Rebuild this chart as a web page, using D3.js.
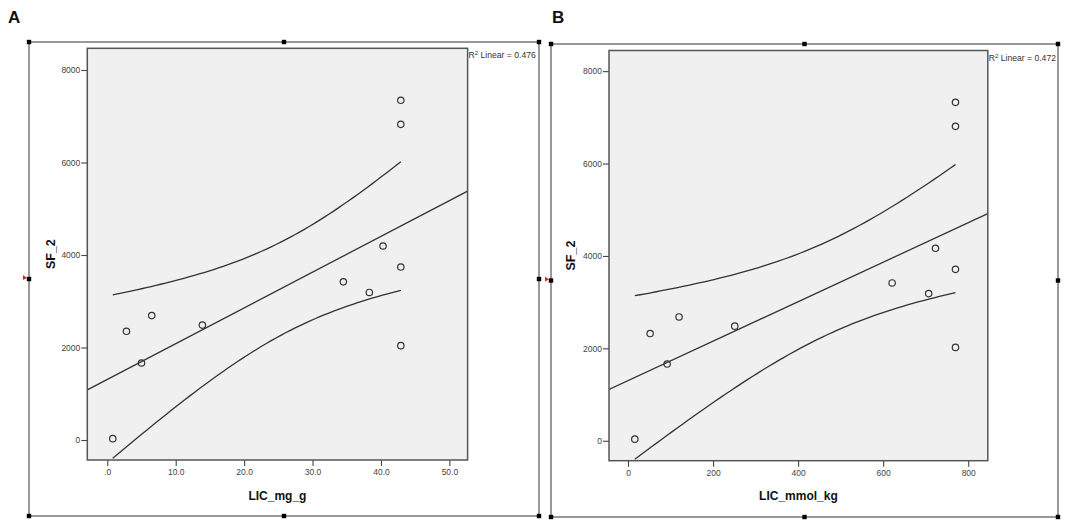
<!DOCTYPE html>
<html>
<head>
<meta charset="utf-8">
<script src="https://cdn.jsdelivr.net/npm/d3@7"></script>
<style>
  body { margin: 0; background: #fff; }
  svg { display: block; font-family: "Liberation Sans", Arial, sans-serif; }
</style>
</head>
<body>
<svg id="chart" width="1084" height="527"></svg>
<script>
// ---- data ----
const licMgG    = [0.8, 2.8, 5.0, 6.5, 13.9, 34.5, 38.3, 40.3, 42.9, 42.9, 42.9, 42.9];
const sfA       = [30, 2350, 1665, 2690, 2485, 3420, 3190, 4195, 3740, 2040, 7345, 6825];
const licMmolKg = [16, 52, 92, 120, 251, 621, 707, 723, 770, 770, 770, 770];
const sfB       = [35, 2320, 1660, 2680, 2480, 3415, 3185, 4165, 3710, 2020, 7325, 6805];

const yTicks       = [0, 2000, 4000, 6000, 8000];
const xTicksA      = [0, 10, 20, 30, 40, 50];
const xTickLabelsA = [".0", "10.0", "20.0", "30.0", "40.0", "50.0"];
const xTicksB      = [0, 200, 400, 600, 800];
const xTickLabelsB = ["0", "200", "400", "600", "800"];
const r2Values     = ["0.476", "0.472"];
const panelLetters = ["A", "B"];
const xTitles      = ["LIC_mg_g", "LIC_mmol_kg"];
const yTitle       = "SF_2";

const svg = d3.select("#chart");
const ink = "#333";

// least squares fit + 95% mean confidence band (what SPSS draws)
const fitLinear = (xs, ys) => {
  const n = xs.length;
  const mx = d3.mean(xs), my = d3.mean(ys);
  const sxx = d3.sum(xs, x => (x - mx) ** 2);
  const sxy = d3.sum(xs, (x, i) => (x - mx) * (ys[i] - my));
  const b = sxy / sxx, a = my - b * mx;
  const sse = d3.sum(xs, (x, i) => (ys[i] - a - b * x) ** 2);
  const s = Math.sqrt(sse / (n - 2));
  const t = 2.228; // t(0.975, 10 df)
  return {
    predict: x => a + b * x,
    half: x => t * s * Math.sqrt(1 / n + (x - mx) ** 2 / sxx)
  };
};

const drawPanel = (cfg) => {
  const g = svg.append("g");

  // outer frame with selection handles
  const f = cfg.frame;
  g.append("rect")
    .attr("x", f.x0).attr("y", f.y0)
    .attr("width", f.x1 - f.x0).attr("height", f.y1 - f.y0)
    .attr("fill", "none").attr("stroke", "#6e6e6e").attr("stroke-width", 1.4);

  const mx = (f.x0 + f.x1) / 2, my = (f.y0 + f.y1) / 2;
  const handles = [[f.x0, f.y0], [mx, f.y0], [f.x1, f.y0], [f.x1, my],
                   [f.x1, f.y1], [mx, f.y1], [f.x0, f.y1], [f.x0, my]];
  g.selectAll(".handle")
    .data(handles)
    .join("rect")
      .attr("class", "handle")
      .attr("x", d => d[0] - 2.2).attr("y", d => d[1] - 2.2)
      .attr("width", 4.4).attr("height", 4.4)
      .attr("fill", "#000");

  // small red marker left of the middle handle
  g.append("path")
    .attr("d", `M${f.x0 - 6},${my - 4} L${f.x0 - 6},${my + 1} L${f.x0 - 2},${my - 1} Z`)
    .attr("fill", "#e0202a");

  // panel letter
  g.append("text")
    .attr("x", cfg.letterX).attr("y", 23)
    .attr("font-size", 17).attr("font-weight", "bold")
    .attr("fill", "#111")
    .text(cfg.letter);

  const p = cfg.plot;
  const x = d3.scaleLinear().domain(cfg.xDomain).range([p.left, p.right]);
  const y = d3.scaleLinear().domain(cfg.yDomain).range([p.bottom, p.top]);

  // plot background
  g.append("rect")
    .attr("x", p.left).attr("y", p.top)
    .attr("width", p.right - p.left).attr("height", p.bottom - p.top)
    .attr("fill", "#f0f0f0");

  const clipId = "clip" + cfg.letter;
  g.append("clipPath").attr("id", clipId)
    .append("rect")
      .attr("x", p.left).attr("y", p.top)
      .attr("width", p.right - p.left).attr("height", p.bottom - p.top);

  // fit line and confidence band
  const fit = fitLinear(cfg.xs, cfg.ys);
  const xMin = d3.min(cfg.xs), xMax = d3.max(cfg.xs);
  const bandX = d3.range(0, 61).map(i => xMin + (xMax - xMin) * i / 60);
  const line = d3.line().x(d => x(d[0])).y(d => y(d[1]));

  const curves = g.append("g").attr("clip-path", `url(#${clipId})`);
  curves.append("path")
    .attr("d", line(cfg.xDomain.map(v => [v, fit.predict(v)])))
    .attr("fill", "none").attr("stroke", ink).attr("stroke-width", 1.3);
  [1, -1].forEach(sign => {
    curves.append("path")
      .attr("d", line(bandX.map(v => [v, fit.predict(v) + sign * fit.half(v)])))
      .attr("fill", "none").attr("stroke", ink).attr("stroke-width", 1.3);
  });

  // points
  g.selectAll(".pt")
    .data(cfg.xs.map((v, i) => [v, cfg.ys[i]]))
    .join("circle")
      .attr("class", "pt")
      .attr("cx", d => x(d[0])).attr("cy", d => y(d[1]))
      .attr("r", 3.2)
      .attr("fill", "none").attr("stroke", ink).attr("stroke-width", 1.2);

  // axes
  const yAxis = d3.axisLeft(y).tickValues(yTicks).tickSize(6).tickPadding(1)
    .tickFormat(d3.format("d"));
  const yg = g.append("g").attr("transform", `translate(${p.left},0)`).call(yAxis);

  const xAxis = d3.axisBottom(x).tickValues(cfg.xTicks).tickSize(6).tickPadding(3)
    .tickFormat((d, i) => cfg.xTickLabels[i]);
  const xg = g.append("g").attr("transform", `translate(0,${p.bottom})`).call(xAxis);

  [yg, xg].forEach(ax => {
    ax.select(".domain").remove();
    ax.selectAll(".tick line").attr("stroke", "#444").attr("stroke-width", 1.1);
    ax.selectAll(".tick text").attr("font-size", 8.5).attr("fill", "#444")
      .attr("font-family", "'Liberation Sans', Arial, sans-serif");
  });

  // plot border on top
  g.append("rect")
    .attr("x", p.left).attr("y", p.top)
    .attr("width", p.right - p.left).attr("height", p.bottom - p.top)
    .attr("fill", "none").attr("stroke", "#555").attr("stroke-width", 1.5);

  // axis titles
  g.append("text")
    .attr("x", (p.left + p.right) / 2).attr("y", 500)
    .attr("text-anchor", "middle")
    .attr("font-size", 12).attr("font-weight", "bold").attr("fill", "#111")
    .text(cfg.xTitle);

  const yMid = (p.top + p.bottom) / 2;
  g.append("text")
    .attr("transform", `translate(${cfg.yTitleX},${yMid}) rotate(-90)`)
    .attr("text-anchor", "middle")
    .attr("font-size", 12.5).attr("font-weight", "bold").attr("fill", "#111")
    .text(yTitle);

  // R squared note
  const r2 = g.append("text")
    .attr("x", p.right + 1).attr("y", p.top + 10)
    .attr("font-size", 8.6).attr("fill", "#333");
  r2.append("tspan").text("R");
  r2.append("tspan").attr("dy", -3).attr("font-size", 6).text("2");
  r2.append("tspan").attr("dy", 3).text(" Linear = " + cfg.r2);
};

drawPanel({
  letter: panelLetters[0], letterX: 8,
  frame: { x0: 29, y0: 42, x1: 539, y1: 516 },
  plot: { left: 87.3, top: 48.3, right: 467.6, bottom: 460 },
  xDomain: [-2.92, 52.66], yDomain: [-432, 8469],
  xs: licMgG, ys: sfA,
  xTicks: xTicksA, xTickLabels: xTickLabelsA,
  xTitle: xTitles[0], yTitleX: 55, r2: r2Values[0]
});

drawPanel({
  letter: panelLetters[1], letterX: 552,
  frame: { x0: 551, y0: 44, x1: 1058, y1: 517 },
  plot: { left: 609, top: 50.5, right: 987.8, bottom: 460.7 },
  xDomain: [-44.7, 846], yDomain: [-432, 8447],
  xs: licMmolKg, ys: sfB,
  xTicks: xTicksB, xTickLabels: xTickLabelsB,
  xTitle: xTitles[1], yTitleX: 575, r2: r2Values[1]
});
</script>
</body>
</html>
